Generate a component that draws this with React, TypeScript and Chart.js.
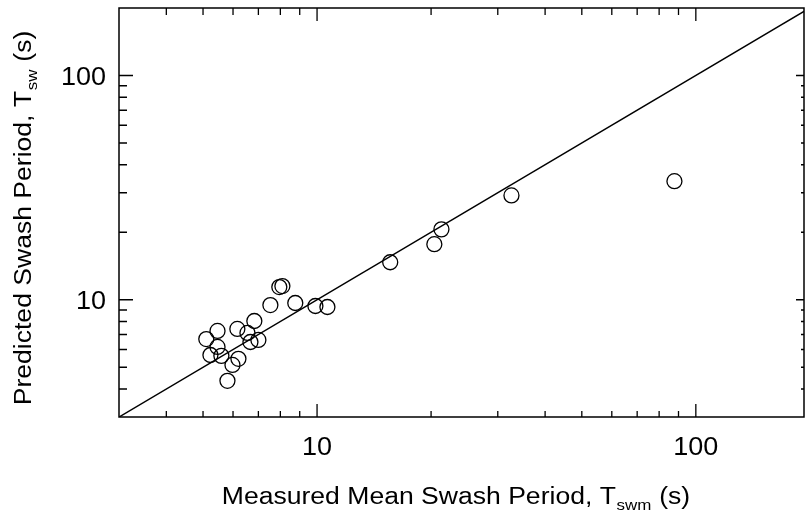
import React, { useEffect, useRef } from "react";
import { Chart, registerables } from "chart.js";

Chart.register(...registerables);

// Measured mean swash period (x) and predicted swash period (y), seconds
const measured = [5.1, 5.46, 5.23, 5.46, 5.59, 5.8, 5.98, 6.2, 6.16, 6.55, 6.83, 6.67, 7.0, 7.53, 7.95, 8.1, 8.76, 9.9, 10.65, 15.6, 20.4, 21.3, 32.6, 87.8];
const predicted = [6.68, 7.26, 5.67, 6.16, 5.62, 4.35, 5.12, 5.45, 7.41, 7.11, 8.04, 6.48, 6.62, 9.47, 11.39, 11.51, 9.67, 9.38, 9.28, 14.7, 17.7, 20.6, 29.2, 33.8];

// 1:1 line end points
const lineEnds = [3, 200];

// axis ranges
const xMin = 3;
const xMax = 193;
const yMin = 3;
const yMax = 200;

// ticks
const majorTicks = [10, 100];
const minorTicks = [4, 5, 6, 7, 8, 9, 20, 30, 40, 50, 60, 70, 80, 90];
const tickLabels = ["10", "100"];

const xTitleMain = "Measured Mean Swash Period, T";
const xTitleSub = "swm";
const yTitleMain = "Predicted Swash Period, T";
const yTitleSub = "sw";
const titleTail = " (s)";

const FONT = '"Liberation Sans", Arial, Helvetica, sans-serif';

function drawTitle(ctx: CanvasRenderingContext2D, cx: number, baseY: number, main: string, sub: string) {
  const size = 23.5;
  const subSize = 15;
  const sx = 1.13;
  ctx.font = `${size}px ${FONT}`;
  const w1 = ctx.measureText(main).width;
  const w3 = ctx.measureText(titleTail).width;
  ctx.font = `${subSize}px ${FONT}`;
  const w2 = ctx.measureText(sub).width + 1;
  const total = (w1 + w2 + w3) * sx;
  ctx.save();
  ctx.translate(cx - total / 2, baseY);
  ctx.scale(sx, 1);
  ctx.fillStyle = "#000";
  ctx.textAlign = "left";
  ctx.textBaseline = "alphabetic";
  ctx.font = `${size}px ${FONT}`;
  ctx.fillText(main, 0, 0);
  ctx.font = `${subSize}px ${FONT}`;
  ctx.fillText(sub, w1 + 0.5, 6);
  ctx.font = `${size}px ${FONT}`;
  ctx.fillText(titleTail, w1 + w2, 0);
  ctx.restore();
}

function drawLabel(ctx: CanvasRenderingContext2D, text: string, x: number, y: number, align: CanvasTextAlign) {
  ctx.save();
  ctx.translate(x, y);
  ctx.scale(1.08, 1);
  ctx.font = `25px ${FONT}`;
  ctx.fillStyle = "#000";
  ctx.textAlign = align;
  ctx.textBaseline = "alphabetic";
  ctx.fillText(text, 0, 0);
  ctx.restore();
}

const framePlugin = {
  id: "frameTicks",
  afterDraw(chart: any) {
    const ctx: CanvasRenderingContext2D = chart.ctx;
    const { left, right, top, bottom } = chart.chartArea;
    const xs = chart.scales.x;
    const ys = chart.scales.y;
    ctx.save();
    ctx.strokeStyle = "#000";
    ctx.lineWidth = 1.5;
    ctx.beginPath();
    ctx.rect(left, top, right - left, bottom - top);
    ctx.stroke();

    ctx.lineWidth = 1.3;
    ctx.beginPath();
    const xTick = (v: number, lenB: number, lenT: number) => {
      const p = xs.getPixelForValue(v);
      ctx.moveTo(p, bottom);
      ctx.lineTo(p, bottom - lenB);
      ctx.moveTo(p, top);
      ctx.lineTo(p, top + lenT);
    };
    const yTick = (v: number, lenL: number, lenR: number) => {
      const p = ys.getPixelForValue(v);
      ctx.moveTo(left, p);
      ctx.lineTo(left + lenL, p);
      ctx.moveTo(right, p);
      ctx.lineTo(right - lenR, p);
    };
    majorTicks.forEach((v) => {
      if (v <= xMax) xTick(v, 13, 13);
      if (v <= yMax) yTick(v, 14, 8);
    });
    minorTicks.forEach((v) => {
      if (v <= xMax) xTick(v, 6, 7);
      if (v <= yMax) yTick(v, 8, 3);
    });
    ctx.stroke();

    majorTicks.forEach((v, i) => {
      drawLabel(ctx, tickLabels[i], xs.getPixelForValue(v), bottom + 37.5, "center");
      drawLabel(ctx, tickLabels[i], left - 13, ys.getPixelForValue(v) + 9, "right");
    });

    drawTitle(ctx, 456, 504, xTitleMain, xTitleSub);

    ctx.save();
    ctx.translate(31, 218);
    ctx.rotate(-Math.PI / 2);
    drawTitle(ctx, 0, 0, yTitleMain, yTitleSub);
    ctx.restore();

    ctx.restore();
  },
};

export default function App() {
  const ref = useRef<HTMLCanvasElement | null>(null);
  useEffect(() => {
    if (!ref.current) return;
    const chart = new Chart(ref.current, {
      type: "scatter",
      data: {
        datasets: [
          {
            type: "line",
            data: lineEnds.map((v) => ({ x: v, y: v })),
            borderColor: "#000",
            borderWidth: 1.5,
            pointRadius: 0,
            fill: false,
            tension: 0,
          } as any,
          {
            type: "scatter",
            data: measured.map((x, i) => ({ x, y: predicted[i] })),
            pointRadius: 7.5,
            pointBorderWidth: 1.3,
            pointBorderColor: "#000",
            pointBackgroundColor: "rgba(0,0,0,0)",
            pointHoverRadius: 7.5,
          } as any,
        ],
      },
      options: {
        responsive: false,
        animation: false,
        layout: { autoPadding: false, padding: { left: 119, top: 8, right: 1, bottom: 96 } },
        plugins: { legend: { display: false }, tooltip: { enabled: false } },
        scales: {
          x: { type: "logarithmic", min: xMin, max: xMax, display: false },
          y: { type: "logarithmic", min: yMin, max: yMax, display: false },
        },
      },
      plugins: [framePlugin],
    });
    return () => chart.destroy();
  }, []);
  return (
    <div style={{ position: "absolute", left: 0, top: 0, width: 805, height: 513, background: "#fff" }}>
      <canvas ref={ref} width={805} height={513} style={{ display: "block" }} />
    </div>
  );
}
